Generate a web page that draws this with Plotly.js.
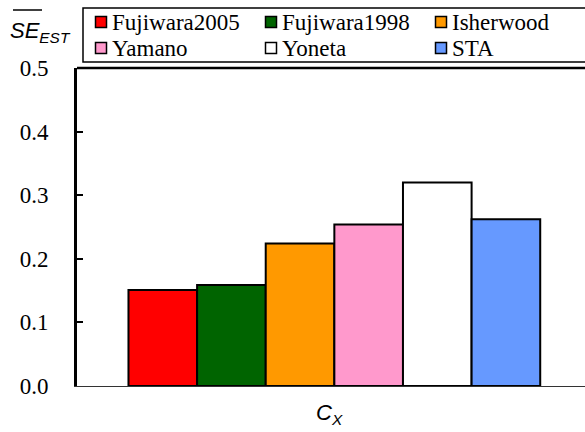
<!DOCTYPE html>
<html>
<head>
<meta charset="utf-8">
<script src="https://cdn.plot.ly/plotly-3.0.1.min.js"></script>
<style>html,body{margin:0;padding:0;background:#fff;}#chart{width:585px;height:432px;}</style>
</head>
<body>
<div id="chart"></div>
<script>
const category = ['Cx'];
const seriesNames = ['Fujiwara2005', 'Fujiwara1998', 'Isherwood', 'Yamano', 'Yoneta', 'STA'];
const seriesValues = [0.151, 0.159, 0.224, 0.254, 0.320, 0.262];
const seriesColors = ['#FF0000', '#006400', '#FF9900', '#FF99CC', '#FFFFFF', '#6699FF'];
const yTickVals = [0, 0.1, 0.2, 0.3, 0.4, 0.5];
const yTickText = ['0.0', '0.1', '0.2', '0.3', '0.4', '0.5'];

const serif = 'Liberation Serif, Times New Roman, serif';
const sans = 'Liberation Sans, Arial, sans-serif';

// plot-area geometry (pixels) used to place the hand-built legend
const W = 585, H = 432, ML = 77, MR = 0, MT = 68, MB = 46;
const PW = W - ML - MR, PH = H - MT - MB;
const px = x => (x - ML) / PW;
const py = y => (H - MB - y) / PH;

const traces = seriesNames.map((name, i) => ({
  type: 'bar',
  name: name,
  x: category,
  y: [seriesValues[i]],
  marker: {color: seriesColors[i], line: {color: '#000', width: 2}},
  hoverinfo: 'skip',
  showlegend: false
}));

// legend: 3 columns x 2 rows
const legShapes = [
  {type: 'rect', xref: 'paper', yref: 'paper', x0: px(83), x1: px(620), y0: py(8), y1: py(62),
   line: {color: '#000', width: 1.5}, fillcolor: '#fff', layer: 'above'}
];
const legAnn = [];
seriesNames.forEach((name, i) => {
  const col = i % 3, row = Math.floor(i / 3);
  const cx = 101 + col * 170, cy = 22 + row * 26;
  legShapes.push({type: 'rect', xref: 'paper', yref: 'paper',
    x0: px(cx - 5.5), x1: px(cx + 5.5), y0: py(cy - 5.5), y1: py(cy + 5.5),
    line: {color: '#000', width: 1.5}, fillcolor: seriesColors[i], layer: 'above'});
  legAnn.push({xref: 'paper', yref: 'paper', x: px(cx + 9), y: py(cy + 1), xanchor: 'left', yanchor: 'middle',
    showarrow: false, text: name, font: {family: serif, size: 23, color: '#000'}});
});

const layout = {
  width: W, height: H,
  font: {family: serif, size: 22, color: '#000'},
  margin: {l: ML, r: MR, t: MT, b: MB, pad: 0},
  paper_bgcolor: '#fff', plot_bgcolor: '#fff',
  barmode: 'group', bargap: 0.2, bargroupgap: 0,
  showlegend: false,
  xaxis: {
    type: 'category', range: [-0.5, 0.487],
    showticklabels: false, ticks: '', showgrid: false, zeroline: false,
    showline: true, linecolor: '#333', linewidth: 1
  },
  yaxis: {
    range: [0, 0.5], tickvals: yTickVals, ticktext: yTickText,
    ticks: 'inside', ticklen: 6, tickwidth: 2, tickcolor: '#000',
    showline: true, linecolor: '#000', linewidth: 3,
    showgrid: false, zeroline: false,
    tickfont: {family: serif, size: 23, color: '#000'},
    ticklabelstandoff: 21
  },
  shapes: [
    {type: 'line', xref: 'paper', yref: 'paper', x0: 0, x1: 1.02, y0: 1, y1: 1, line: {color: '#000', width: 2.5}},
    {type: 'line', xref: 'paper', yref: 'paper', x0: px(13), x1: px(42), y0: py(10), y1: py(10), line: {color: '#000', width: 1.5}}
  ].concat(legShapes),
  annotations: [
    {xref: 'paper', yref: 'paper', x: px(40), y: py(32), xanchor: 'center', yanchor: 'middle', showarrow: false,
     text: '<i>SE<sub>EST</sub></i>', font: {family: sans, size: 22, color: '#000'}},
    {xref: 'paper', yref: 'paper', x: px(329), y: py(414), xanchor: 'center', yanchor: 'middle', showarrow: false,
     text: '<i>C<sub>X</sub></i>', font: {family: sans, size: 22, color: '#000'}}
  ].concat(legAnn)
};

Plotly.newPlot('chart', traces, layout, {staticPlot: true, displayModeBar: false});
</script>
</body>
</html>
